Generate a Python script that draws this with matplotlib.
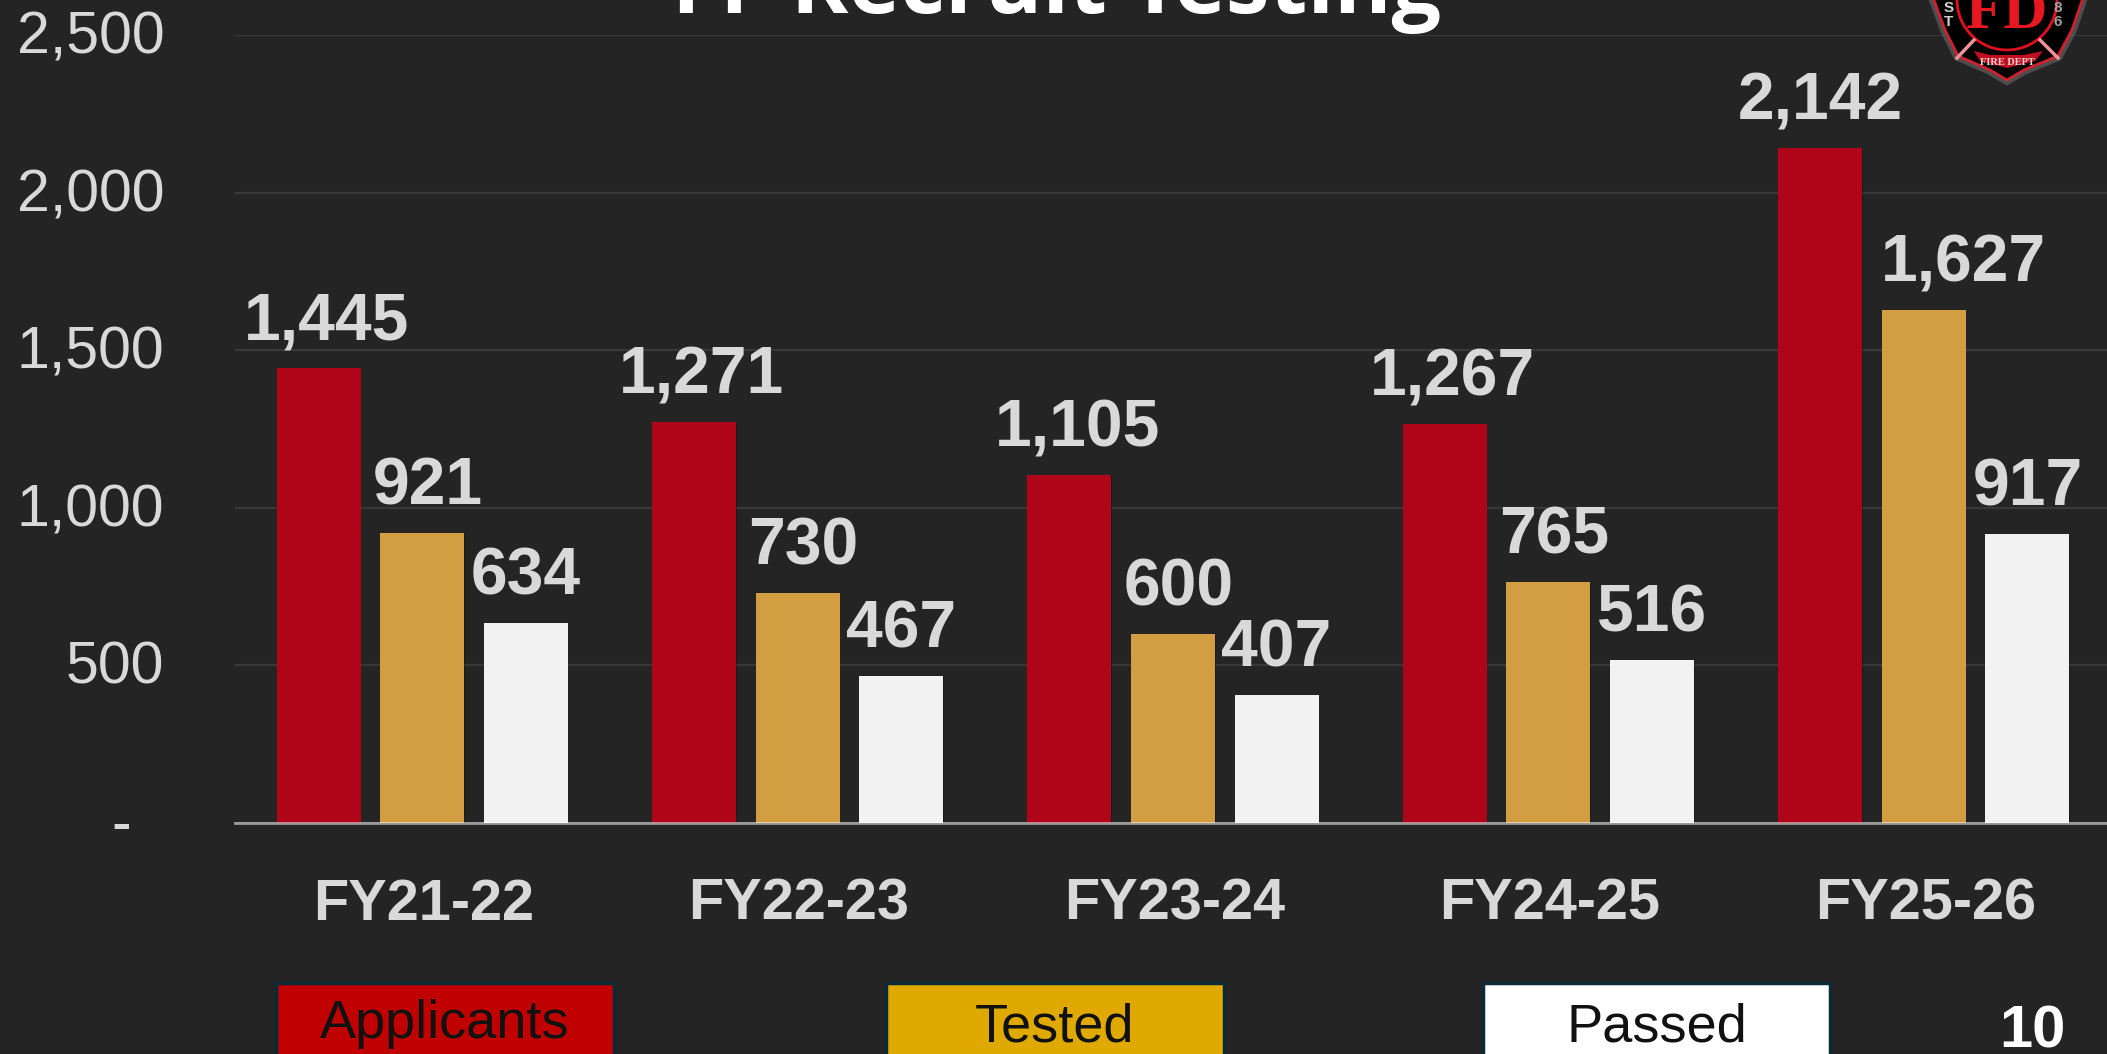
import numpy as np
import matplotlib
matplotlib.use('Agg')
from matplotlib import pyplot as plt
from matplotlib.patches import Circle, Polygon, Rectangle
from matplotlib.lines import Line2D
from matplotlib.transforms import ScaledTranslation
import matplotlib.patheffects as pe

years = ['FY21-22', 'FY22-23', 'FY23-24', 'FY24-25', 'FY25-26']
applicants = [1445, 1271, 1105, 1267, 2142]
tested = [921, 730, 600, 765, 1627]
passed = [634, 467, 407, 516, 917]
y_ticks = [0, 500, 1000, 1500, 2000, 2500]
y_labels = ['-  ', '500', '1,000', '1,500', '2,000', '2,500']

BG = '#242424'
LABEL = '#d9d9d9'
W, H = 2107, 1054

plt.rcParams['font.family'] = ['Liberation Sans', 'DejaVu Sans']

fig = plt.figure(figsize=(W / 100, H / 100), dpi=100, facecolor=BG)

# axes overshoot the right edge a little, like the slide
ax = fig.add_axes([234.5 / W, 1 - 823 / H, 1877 / W, 788 / H], facecolor=BG)
ax.set_xlim(-0.5, 4.5)
ax.set_ylim(0, 2500)

x = np.arange(len(years))
bar_w = 0.2237
step = 0.276
shadow = [pe.SimplePatchShadow(offset=(0.5, -0.5), shadow_rgbFace='#111111', alpha=0.5), pe.Normal()]

series = [(applicants, -step, '#b00518', 8), (tested, 0, '#d29e41', 6), (passed, step, '#f2f2f2', 0)]
for vals, off, col, nudge in series:
    bars = ax.bar(x + off, vals, bar_w, color=col, zorder=2)
    for b in bars:
        b.set_path_effects(shadow)
    for xi, v in zip(x, vals):
        dx = nudge
        if v == 1627:  # this label got dragged right on the slide
            dx = 40
        if v == 2142:
            dx = 0
        ax.annotate(f'{v:,}', (xi + off, v), xytext=(dx * 0.72, 20.5), textcoords='offset points',
                    ha='center', va='baseline', fontsize=47.5, fontweight='bold', color=LABEL, zorder=3)

ax.set_yticks(y_ticks)
ax.set_yticklabels(y_labels, fontsize=42.5, color=LABEL)
ax.set_xticks(x)
ax.set_xticklabels(years, fontsize=41.5, fontweight='bold', color=LABEL)
ax.tick_params(axis='y', length=0, pad=50.5)
ax.tick_params(axis='x', length=0, pad=39.5)
for lab in ax.get_yticklabels():
    lab.set_transform(lab.get_transform() + ScaledTranslation(0, 0.03, fig.dpi_scale_trans))
for lab in ax.get_xticklabels():
    lab.set_transform(lab.get_transform() + ScaledTranslation(0.015, 0, fig.dpi_scale_trans))
ax.grid(axis='y', color='#383838', linewidth=1.6)
ax.set_axisbelow(True)
for s in ['top', 'right', 'left']:
    ax.spines[s].set_visible(False)
ax.spines['bottom'].set_color((1, 1, 1, 0.55))
ax.spines['bottom'].set_linewidth(2)
ax.spines['bottom'].set_zorder(4)

# overlay in slide pixels for title, legend boxes and badge
ov = fig.add_axes([0, 0, 1, 1], facecolor='none')
ov.set_xlim(0, W)
ov.set_ylim(H, 0)
ov.axis('off')

ov.text(1057, 13, 'FF Recruit Testing', family='Open Sans', fontweight='bold', fontsize=63,
        color='white', ha='center', va='baseline')

boxes = [(276, 338, '#c00000', 'Applicants', 1038), (886, 338, '#dfa900', 'Tested', 1041),
         (1483, 347, '#ffffff', 'Passed', 1041)]
for bx, bw, col, txt, base in boxes:
    ov.add_patch(Rectangle((bx, 983), bw, 90, facecolor=col, edgecolor='#0b2a38', linewidth=2.5))
    ov.text(bx + bw / 2, base, txt, fontsize=39, color='#111111', ha='center', va='baseline')

ov.text(2032, 1048, '10', fontsize=43, fontweight='bold', color='white', ha='center', va='baseline')

# fire dept badge, top is cut off by the slide edge
badge = [(1932, -5), (1945, 30), (1958, 56), (1990, 70), (2007, 80), (2024, 70), (2058, 56),
         (2072, 30), (2084, -5)]
ov.add_patch(Polygon(badge, closed=True, facecolor='black', edgecolor='#cf2030', linewidth=2,
                     path_effects=[pe.withStroke(linewidth=7, foreground='#777777', alpha=0.5)]))
ov.add_patch(Circle((2007, 0), 50, facecolor='black', edgecolor='#e01020', linewidth=2))
ov.add_line(Line2D([1957, 1974], [58, 40], color='#f09098', linewidth=2.5))
ov.add_line(Line2D([2058, 2040], [58, 40], color='#f09098', linewidth=2.5))
ov.add_patch(Polygon([(1974, 51), (1990, 55), (2024, 55), (2043, 51), (2035, 61), (2007, 68), (1980, 61)],
                     closed=True, facecolor='#c01020', edgecolor='none'))
ov.text(2007, 28, 'FD', family='Liberation Serif', fontsize=44, fontweight='bold', color='#e81820',
        ha='center', va='baseline')
ov.text(1949, 12, 'S', fontsize=11, fontweight='bold', color='#d0d0d0', ha='center', va='baseline')
ov.text(1949, 26, 'T', fontsize=11, fontweight='bold', color='#d0d0d0', ha='center', va='baseline')
ov.text(2058, 12, '8', fontsize=11, fontweight='bold', color='#a0a0a0', ha='center', va='baseline')
ov.text(2058, 26, '6', fontsize=11, fontweight='bold', color='#a0a0a0', ha='center', va='baseline')
ov.text(2007, 65, 'FIRE DEPT', family='Liberation Serif', fontsize=7.5, fontweight='bold', color='#f0d0d0',
        ha='center', va='baseline')

fig.savefig('out.png', dpi=100, facecolor=BG)
